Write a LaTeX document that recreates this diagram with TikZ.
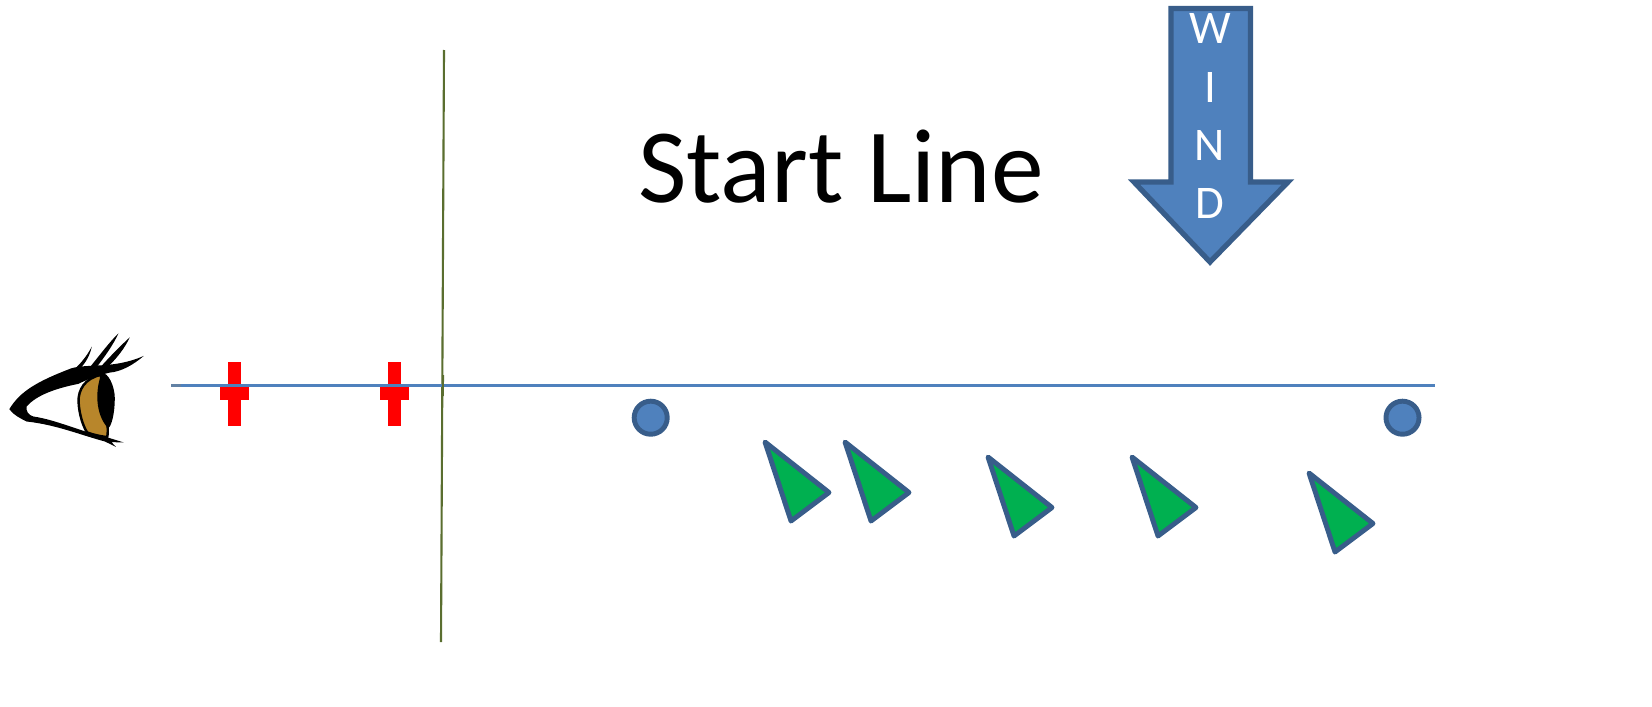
\documentclass[tikz,border=0pt]{standalone}
\usepackage{fontspec}
\setmainfont{Carlito}
\usepackage{tikz}
\definecolor{shapeblue}{HTML}{4F81BD}
\definecolor{shapeedge}{HTML}{385D8A}
\definecolor{startgreen}{HTML}{5A6E2F}
\definecolor{boatgreen}{HTML}{00B050}
\definecolor{iris}{HTML}{B8862B}
\tikzset{
    buoy/.style={circle, draw=shapeedge, fill=shapeblue, line width=1.4pt, minimum size=33\pgflinewidth*0+9.4pt, inner sep=0pt},
    boat/.style={draw=shapeedge, fill=boatgreen, line width=1.4pt, line join=round},
    mark red/.style={fill=red, draw=none},
    lash/.style={fill=black, draw=none}
}

\begin{document}
\begin{tikzpicture}[x=0.01cm, y=-0.01cm]
        \useasboundingbox (0,0) rectangle (1652,706);
        %start line and sight line
        \coordinate (startTop) at (444,50);
        \coordinate (startBottom) at (441,642);
        \coordinate (sightFaint) at (171,385.5);
        \coordinate (sightStart) at (181,385.5);
        \coordinate (sightEnd) at (1435,385.5);
        \draw[startgreen, line width=0.6pt] (startTop) -- (startBottom);
        \draw[shapeblue!60!gray, line width=0.6pt] (sightFaint) -- (sightStart);
        % red markers
        \fill[mark red] (228,361.5) rectangle (241,426);
        \fill[mark red] (220,387) rectangle (249,400);
        \fill[mark red] (388,361.5) rectangle (401,426);
        \fill[mark red] (380,387) rectangle (409,400);
        \draw[shapeblue, line width=0.85pt] (sightStart) -- (sightEnd);
        \draw[startgreen, line width=0.6pt] (443,375) -- (442.8,396);
        % buoys
        \node[buoy] (buoyLeft) at (650.7,417.7) {};
        \node[buoy] (buoyRight) at (1402.5,417.7) {};
        % boats
        \draw[boat] (765,442) -- ++(64,50.5) -- ++(-38,28.5) -- cycle;
        \draw[boat] (845,442) -- ++(64,50.5) -- ++(-38,28.5) -- cycle;
        \draw[boat] (988,457) -- ++(64,50.5) -- ++(-38,28.5) -- cycle;
        \draw[boat] (1132,457) -- ++(64,50.5) -- ++(-38,28.5) -- cycle;
        \draw[boat] (1309,473) -- ++(64,50.5) -- ++(-38,28.5) -- cycle;
        % wind arrow
        \draw[fill=shapeblue, draw=shapeedge, line width=1.5pt, miter limit=4]
            (1171,8.5) -- (1250.5,8.5) -- (1250.5,182) -- (1288,182) -- (1210,262)
            -- (1134,182) -- (1171,182) -- cycle;
        \node[text=white, font=\fontsize{13.3}{16.6}\selectfont, align=center, inner sep=0pt, anchor=north] (windLabel) at (1210,13) {W\\I\\N\\D};
        \node[font=\fontsize{30}{36}\selectfont, anchor=base, inner sep=0pt] (title) at (841,202) {Start Line};
        % eye
        \begin{scope}[shift={(0,310)}, x=0.00333cm, y=-0.00333cm]
            \fill[black] (28,298) .. controls (60,245) and (110,215) .. (215,175)
                .. controls (270,160) and (340,178) .. (432,138)
                .. controls (400,165) and (365,185) .. (330,188)
                .. controls (300,195) and (270,205) .. (235,222)
                .. controls (170,235) and (110,255) .. (80,290)
                .. controls (78,305) and (85,315) .. (100,320)
                .. controls (170,330) and (240,365) .. (320,382)
                -- (372,398) -- (335,397) -- (348,411) -- (315,395)
                .. controls (240,375) and (170,345) .. (80,335)
                .. controls (60,325) and (40,315) .. (28,298) -- cycle;
            \fill[lash] (210,190) .. controls (240,165) and (260,140) .. (276,110)
                .. controls (268,145) and (250,170) .. (225,190) -- cycle;
            \fill[lash] (270,172) .. controls (300,135) and (330,95) .. (356,70)
                .. controls (340,105) and (315,140) .. (290,172) -- cycle;
            \fill[lash] (305,168) .. controls (335,135) and (365,105) .. (390,82)
                .. controls (375,115) and (350,145) .. (330,165) -- cycle;
            \draw[fill=iris, draw=black, line width=0.7pt] (303,195) .. controls (255,205) and (235,240) .. (236,275)
                .. controls (238,315) and (250,350) .. (262,368)
                .. controls (280,375) and (305,380) .. (322,382)
                .. controls (330,350) and (310,250) .. (303,195) -- cycle;
            \fill[black] (305,190) .. controls (325,185) and (345,230) .. (345,265)
                .. controls (345,310) and (335,350) .. (325,355)
                .. controls (295,325) and (280,260) .. (305,190) -- cycle;
        \end{scope}
    \end{tikzpicture}
\end{document}
